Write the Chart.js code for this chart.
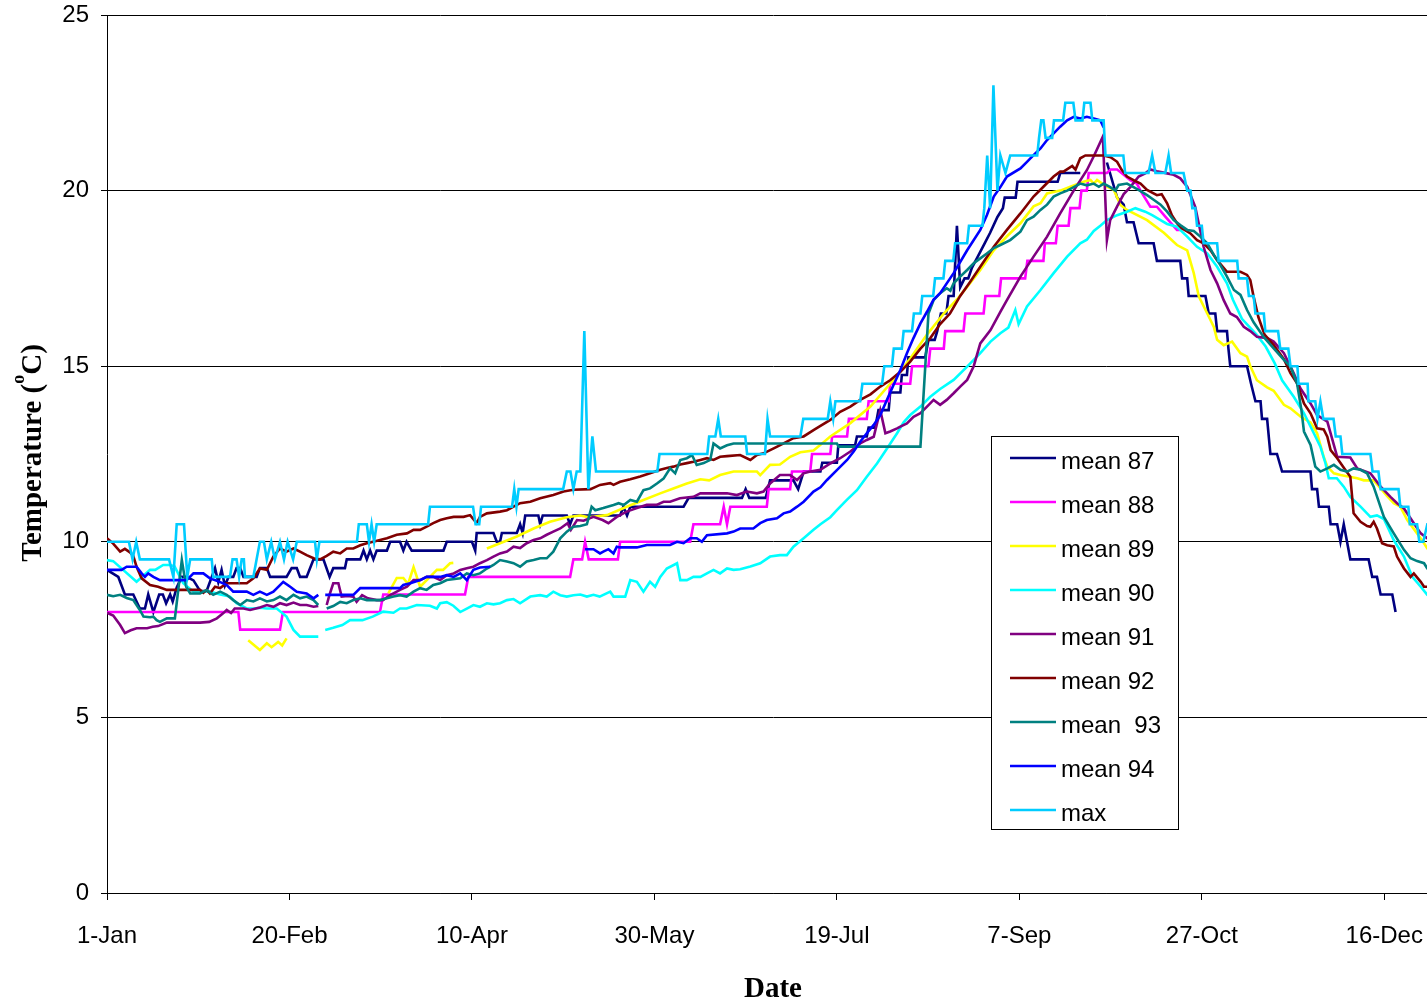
<!DOCTYPE html>
<html>
<head>
<meta charset="utf-8">
<script src="https://cdn.jsdelivr.net/npm/chart.js@4.4.1/dist/chart.umd.min.js"></script>
<style>
html, body { margin: 0; padding: 0; overflow: hidden; background: #fff; }
#wrap { position: absolute; left: 0; top: 0; width: 1427px; height: 1007px; overflow: hidden; }
canvas { display: block; }
</style>
</head>
<body>
<div id="wrap"><canvas id="c" width="1445" height="1007"></canvas></div>
<script>
// ---- axis ticks / labels ----
const xTickDays = [0, 50, 100, 150, 200, 250, 300, 350];
const xTickLabels = ['1-Jan', '20-Feb', '10-Apr', '30-May', '19-Jul', '7-Sep', '27-Oct', '16-Dec'];
const xTitle = 'Date';
const yTitleParts = ['Temperature (', 'o', 'C)'];
const seriesLabels = ['mean 87', 'mean 88', 'mean 89', 'mean 90', 'mean 91', 'mean 92', 'mean  93', 'mean 94', 'max'];
const seriesColors = ['#000080', '#FF00FF', '#FFFF00', '#00FFFF', '#800080', '#800000', '#008080', '#0000FF', '#00CCFF'];

// ---- series (day of year from 1-Jan, temperature in C; null = gap) ----
const mean87Day = [0,3.1,4.9,7.2,9,10.4,11.3,12.7,14.3,15.3,16.2,17.3,18,19.1,20.5,21.8,23.7,25.5,27.3,29.6,30.5,31.4,32.3,33.3,34.6,35.5,36.5,37.4,41,41.9,43.8,44.7,49.2,50.6,52,52.9,54.7,56.6,59.3,61,62,65.2,65.7,69.4,70.3,71.2,72.1,73,73.9,76.7,77.6,80.3,81.2,82.1,83.5,92.2,93.1,100,100.9,101.3,105.9,106.8,107.7,108.2,112.3,113.2,113.9,114.6,118.2,118.7,119.4,126,126.9,127.8,140.6,141.5,142.5,143.4,158,159.4,174,175,176,180.5,181.7,188.1,189.4,190.9,195.5,196,200,200.4,205,205.5,208.2,208.7,210.5,211.4,214.2,214.6,217.4,217.8,219.2,219.6,224.2,225.1,226.8,227.5,228.5,230,230.6,232,232.9,233.8,235,236,237,238.5,240.5,242,244,245.5,246,249,249.5,260.5,261.2,266.7,270,274,276.8,278.6,279.5,281.3,282.7,286.8,287.7,294.1,294.6,296,296.4,301,301.9,303.7,304.2,306.9,307.3,307.8,312.4,313.5,314.7,316.1,316.5,317.9,318.8,320.6,322,329.8,330.2,331.6,332.1,334.8,335.3,337.1,338,338.9,340.7,345.7,346.7,348,349,352.2,353.1];
const mean87Temp = [9.2,9.0,8.5,8.5,8.1,8.1,8.5,8.0,8.5,8.5,8.25,8.5,8.3,8.7,9.0,9.0,8.9,8.6,8.6,9.25,8.85,9.2,8.75,9.0,9.0,9.25,9.25,9.0,9.0,9.25,9.25,9.0,9.0,9.25,9.25,9.0,9.0,9.5,9.5,9.0,9.25,9.25,9.5,9.5,9.75,9.5,9.75,9.5,9.75,9.75,10.0,10.0,9.75,10.0,9.75,9.75,10.0,10.0,9.75,10.25,10.25,10.0,10.0,10.25,10.25,10.5,10.25,10.75,10.75,10.5,10.75,10.75,10.5,10.75,10.75,11.0,10.75,11.0,11.0,11.25,11.25,11.5,11.25,11.25,11.75,11.75,11.5,12.0,12.0,12.25,12.25,12.75,12.75,13.0,13.0,13.25,13.25,13.75,13.75,14.25,14.25,14.75,14.75,15.25,15.25,15.75,15.75,16.0,16.5,16.5,17.0,17.0,19.0,17.25,17.5,17.5,17.8,18.1,18.5,18.8,19.25,19.5,19.8,19.8,20.25,20.25,20.5,20.5,null,20.8,19.8,19.6,19.1,19.1,18.5,18.5,18.0,18.0,17.5,17.5,17.0,17.0,16.5,16.5,16.0,16.0,15.5,15.0,15.0,14.5,14.0,14.0,13.5,13.5,12.5,12.5,12.0,12.0,11.5,11.5,11.0,11.0,10.5,10.5,10.0,10.5,9.5,9.5,9.0,9.0,8.5,8.5,8.0];

const mean88Day = [0,36,36.5,47.4,48.2,74.8,75.7,98.1,99,126.9,127.8,130.2,131,132,140,140.6,159.8,160.7,168,169,169.9,170.8,180.8,181.3,187.2,187.7,192.7,193.2,198.2,198.7,202.8,203.3,208.2,208.7,214.2,214.6,220.1,220.6,225.1,225.6,229.3,229.7,234.7,235.2,240.2,240.7,244.5,245,251.6,252.2,256.6,257,260,260.5,263.5,264,266.5,267,268.5,269,274,275,276.8,278.6,280.4,282.2,283.2,285.9,287.7,290,293.2,294];
const mean88Temp = [8,8,7.5,7.5,8,8,8.5,8.5,9,9,9.5,9.5,10,9.5,9.5,10,10,10.5,10.5,11,10.5,11,11,11.5,11.5,12,12,12.5,12.5,13,13,13.5,13.5,14,14,14.5,14.5,15,15,15.5,15.5,16,16,16.5,16.5,17,17,17.5,17.5,18,18,18.5,18.5,19,19,19.5,19.5,20,20,20.5,20.5,20.6,20.6,20.45,20.3,20.2,20.0,19.54,19.54,19.26,18.88,18.88];

const mean89Day = [38.7,41.9,43.8,45.1,46.9,48,49.2,60,77.1,79.4,81.2,82.5,84,85.8,88.5,90.4,92.1,94,94.9,100,104.1,107.7,112.3,116.9,121.4,126,129.7,132,137,142.4,147,151.6,155.2,158.9,162.6,165,168,171.7,178.1,179,181.7,184.4,187.2,190,193.6,195.5,198.2,203.7,209.2,214.6,217.4,220.1,224.7,229.3,232.9,235.7,239.3,243,246.6,250.3,253.9,255.8,257.6,261.2,264,267.6,269.5,270.4,271.3,274,275.9,277.7,279.5,285,289.6,293.2,296,297.8,299.2,301.5,303.3,304.2,306,308.3,310.6,312.4,313.3,315.1,317.9,319.7,322.5,324.3,327.1,329.8,331.6,333.4,334.4,336.2,338,342.6,344.4,347.1,349,350.8,352.6,354.4,356.3,359,360.9,361.8,364];
const mean89Temp = [7.2,6.92,7.11,7.0,7.15,7.05,7.25,null,8.53,8.97,8.97,8.8,9.28,8.72,9.0,9.2,9.2,9.39,9.4,null,9.81,9.96,10.15,10.38,10.57,10.7,10.75,10.7,10.76,11.0,11.19,11.38,11.52,11.66,11.78,11.75,11.9,12.0,12.0,11.9,12.19,12.2,12.42,12.55,12.6,12.76,13.0,13.38,13.85,14.5,14.85,15.22,15.9,16.5,16.9,17.26,17.74,18.3,18.7,19.07,19.55,19.64,19.92,20.0,20.11,20.25,20.3,20.2,20.3,20.11,20.02,19.59,19.45,19.16,18.8,18.45,18.3,17.65,16.98,16.5,16.12,15.75,15.6,15.7,15.37,15.27,15.0,14.6,14.4,14.3,13.9,13.8,13.56,13.4,13.09,12.42,12.14,11.95,11.9,11.81,11.75,11.75,11.52,11.3,11.1,11.0,10.62,10.24,9.96,9.81,9.7];

const mean90Day = [0,1.7,8.1,11.8,13.2,15.4,17.3,18.5,20.9,23.7,28.2,31,33.7,35.5,38.3,40.1,41.9,43.8,46.5,49.2,51.1,52.9,57.9,59,59.8,62,64.5,66.6,70,72.8,75.7,78.5,80.3,82.1,84.9,88.5,90.4,91.3,93.1,94.9,96.8,98.6,100.4,102.2,104.1,105.9,107.7,109.6,111.4,113.2,116,118.7,120.5,122.3,124.2,126,127.8,129.7,131.5,133.3,135,137.9,138.8,142,143.4,145.2,147,148.8,150.2,151.6,153.4,156.2,157.1,158.9,160.7,162.6,164.4,166.2,168,169.9,171.7,173.5,176.3,179,181.7,184.4,186.3,188.1,190.9,193.6,195.5,198.2,200,202.8,205.5,208.2,211,213.7,216.5,218.3,220.1,222.9,225.6,228.3,232,235.7,239.3,242.1,244.8,247,248.9,249.8,252.1,255.8,259.4,263.1,266.7,268.5,270.4,272.2,274,276.8,279.5,281.8,284.5,286.4,288.7,290.5,293.2,296,298.7,301.5,304.2,306.9,308.5,311,315,317.5,320,322,325.2,328,330.7,332.5,333.9,334.8,337,338.9,340.7,343.5,346.2,348,349.9,352.6,355.4,357.7,360,361.8,364];
const mean90Temp = [9.48,9.45,8.86,9.2,9.2,9.34,9.34,9.3,8.82,8.58,8.58,8.5,8.44,8.25,8.1,8.1,8.12,8.1,8.1,7.87,7.49,7.3,7.3,null,7.49,7.55,7.63,7.77,7.77,7.87,8.01,7.98,8.1,8.1,8.2,8.18,8.1,8.25,8.28,8.18,8.0,8.1,8.2,8.15,8.25,8.22,8.25,8.34,8.37,8.25,8.44,8.48,8.44,8.58,8.48,8.44,8.48,8.5,8.44,8.49,8.44,8.58,8.44,8.44,8.91,8.86,8.58,8.86,8.72,9.0,9.24,9.39,8.91,8.91,9.0,9.0,9.1,9.2,9.1,9.24,9.2,9.22,9.3,9.39,9.58,9.62,9.62,9.86,10.1,10.34,10.5,10.7,10.9,11.2,11.47,11.85,12.23,12.65,13.09,13.4,13.61,13.85,14.13,14.35,14.61,14.99,15.37,15.7,15.94,16.1,16.6,16.2,16.7,17.17,17.65,18.12,18.5,18.6,18.85,19.0,19.16,19.3,19.4,19.5,19.4,19.3,19.16,19.05,18.97,18.69,18.4,18.21,17.83,17.36,16.9,16.35,15.9,15.56,15.08,14.6,14.13,13.66,13.09,12.71,12.23,11.81,11.81,11.57,11.28,11.0,10.71,10.75,10.65,10.05,9.58,9.0,8.72,8.49,8.4];

const mean91Day = [0,1.7,3.6,4.9,6.5,8.1,11,12.5,14,16.4,25.5,28,30.1,31.9,32.8,34,35,37.4,39.2,41.9,43.8,45.6,47.4,49.2,51.1,52.9,54.7,56.6,57.9,59,60.2,61,62,63.4,64.3,66,67.5,68.4,69.9,71.5,73.9,75.6,77.6,80.3,82.2,84,85.8,87.6,89.4,91.3,93.1,95,96.8,98.6,100.4,102.2,104.1,105.9,107.7,109.6,111.4,113.2,115,116.9,118.7,120.5,122.3,124.2,126.2,127.1,128.8,130.6,133.3,135.8,137.4,139.7,142.4,145.2,147.9,150.6,152.5,154.3,157,160.7,162.6,165.3,169.9,172.6,175.3,178.1,179.9,181.7,184.4,187.2,189.1,190.9,192.7,195.5,198.2,200.9,203.7,206.4,208.2,210.1,211.9,213.3,214.6,216.5,217.4,219.2,221,222.9,224.7,226.5,228.3,230.1,232,233.8,235.7,237.5,239.3,242.1,244.8,246.6,250.3,253.9,257.6,261.2,264.9,268.5,270.5,272.9,274,274.9,276.8,278.6,280.4,282.7,284.5,285.9,287.7,290.5,292.3,294.1,296,298.2,300.5,302.4,304.2,306,307.8,309.6,311.5,313.3,315.1,317.9,319.7,322.5,325.2,327,329.8,331.6,334.4,337.1,340.7,342.6,346.2,349,351.7,353.5,355.4,358.1,360,361.8,364];
const mean91Temp = [7.98,7.9,7.63,7.4,7.48,7.54,7.54,7.58,7.6,7.7,7.7,7.72,7.82,7.97,8.06,7.97,8.1,8.1,8.06,8.13,8.2,8.15,8.25,8.2,8.27,8.2,8.2,8.15,8.17,null,8.2,8.5,8.82,8.82,8.44,8.46,8.44,8.29,8.48,8.39,8.34,8.34,8.48,8.63,8.72,8.91,8.91,9.0,9.0,8.91,9.05,9.1,9.2,9.25,9.29,9.39,9.48,9.58,9.67,9.72,9.86,9.82,9.96,10.05,10.1,10.2,10.29,10.38,10.53,10.34,10.62,10.6,10.71,10.62,10.53,10.71,10.86,10.96,11.05,11.05,11.14,11.14,11.24,11.28,11.38,11.38,11.38,11.33,11.43,11.38,11.43,11.66,11.9,11.9,11.76,11.95,12.0,12.05,12.23,12.38,12.57,12.8,12.9,12.99,13.75,13.09,13.14,13.23,13.28,13.37,13.56,13.66,13.85,14.04,13.9,14.04,14.23,14.42,14.61,15.0,15.65,16.03,16.55,16.88,17.55,18.12,18.69,19.35,20.0,20.58,21.0,21.54,18.59,19.16,19.55,19.9,20.1,20.4,20.49,20.6,20.55,20.49,20.45,20.35,20.11,19.54,18.4,17.74,17.36,16.88,16.5,16.4,16.12,16.0,15.84,15.8,15.7,15.37,14.8,14.37,13.94,13.61,13.42,12.42,12.4,12.09,11.95,11.57,11.28,11.1,10.95,10.53,10.24,10.1,10.0];

const mean92Day = [0,1.7,3.6,4.9,6.3,7.2,8.1,9.5,11.8,14,16.4,25.5,26.4,27.3,28.2,29.6,31,32.8,38.3,40.1,41.9,43.8,45.6,47.4,49.2,51.1,52.9,54.7,56.6,58.4,60.2,62,63.9,65.7,67.5,69.4,71.2,74,76.7,79.4,82.2,84,85.8,87.6,89.4,91.3,93.1,95,97.7,99.5,101.3,102.2,104.1,107.7,109.6,111.4,113.2,116,118.7,122.3,125.1,127.8,132.5,135.1,137.9,138.8,140.6,143.4,146.1,148.8,151.6,153.4,155.2,157.1,158.9,160.7,162.6,164.4,166.2,168,169.9,173.5,176.3,178.1,179.9,182.7,185.4,188.1,190.9,193.6,195.5,198.2,200.9,203.7,206.4,209.2,211.9,214.6,217.4,220.1,222.9,225.6,228.3,231,233.8,236.5,239.3,243,246.6,250.3,253.9,256.6,259.4,261.2,262.1,264.5,265.4,266.7,268.1,273.1,275,276.8,278,279.5,281.3,283.2,285,287.7,289,290.5,291.8,293.2,294.5,296.9,298.7,300.5,302.4,304.2,306.9,310.6,312.4,313.3,314.2,315.5,317.2,319.7,322.5,324.3,326.1,328,329.8,331.6,333.4,334.4,335.3,337.1,339.4,340.7,341.6,343.5,345.3,346.2,347.1,348,349.4,350.8,352.6,353.5,355.4,357.2,358.1,360,360.9,361.8,364];
const mean92Temp = [10.1,9.95,9.72,9.8,9.7,9.6,9.29,8.96,8.77,8.72,8.63,8.63,8.55,8.63,8.53,8.72,8.68,8.82,8.82,8.96,9.24,9.2,9.58,9.81,9.72,9.81,9.72,9.62,9.53,9.5,9.6,9.72,9.67,9.81,9.81,9.9,9.96,10.03,10.1,10.2,10.24,10.34,10.34,10.43,10.53,10.62,10.67,10.71,10.71,10.76,10.53,10.71,10.81,10.86,10.9,11.0,11.1,11.14,11.24,11.33,11.43,11.48,11.5,11.62,11.67,11.62,11.71,11.78,11.86,11.95,12.05,12.1,12.14,12.2,12.24,12.28,12.33,12.38,12.33,12.42,12.44,12.47,12.33,12.47,12.52,12.66,12.8,12.95,13.0,13.18,13.3,13.47,13.7,13.85,14.04,14.2,14.42,14.6,14.84,15.13,15.5,15.8,16.2,16.5,17.0,17.4,17.83,18.4,18.88,19.35,19.83,20.11,20.4,20.54,20.54,20.7,20.6,20.92,21.0,21.0,20.95,20.82,20.6,20.4,20.3,20.2,20.02,19.87,19.9,19.64,19.3,19.07,18.93,18.78,18.59,18.5,18.3,18.02,17.69,17.69,17.6,17.45,16.98,16.4,15.9,15.6,15.2,14.8,14.51,13.94,13.66,13.23,13.2,12.99,12.61,12.38,12.04,11.85,10.81,10.57,10.45,10.43,10.57,10.38,9.96,9.9,9.87,9.58,9.24,9.0,9.1,8.86,8.72,8.72,8.6];

const mean93Day = [0,1.7,3.6,5.4,7.2,9,10,11.8,12.7,13.6,14.5,16.4,18.6,20.5,21.7,22.8,25.5,27.3,29.1,31,32.8,34.6,36.5,38.3,40.1,41.9,43.8,45.6,47.4,49.2,51.1,52.9,54.7,56.6,57.9,59,60.2,62,63.9,65.7,67.5,69.4,71.2,74.8,76.7,78.5,80.3,82.1,84,85.8,87.6,89.4,91.3,93.1,96.8,98.6,100.4,102.2,104.1,105.9,107.7,109.6,111.4,113.2,115,116.9,118.7,120.5,122.3,124.2,126,127.8,129.7,131.5,132.8,133.8,136,138.8,140.2,141.6,143.4,145.2,147,148.8,150.7,152.5,154.3,155.7,157.1,158.9,160.3,161.6,163.5,165.3,166.2,168,169.9,171.7,200,200.5,222.9,225.1,226.5,228.3,230.1,231.1,232,233.8,235.7,237.5,239.3,241.1,243,244.8,247.5,250.3,252.1,253.9,255.8,257.6,259.4,261.2,263.1,264.9,266.7,268.5,270.4,271.8,273.1,274.9,276.3,277.2,279.5,281.3,283,285,286.8,288.7,290.5,292.3,294.1,296,297.8,299.6,301.5,303.3,305.1,306.9,308.8,310.6,312.4,314.2,316.9,319.7,322.5,324.3,326.1,327.3,328,329.8,331.1,332.5,334.4,336.2,338,339.8,341.6,343.5,345.3,347.1,349.9,352.6,355.4,357.2,359,360.9,361.8,364];
const mean93Temp = [8.49,8.45,8.49,8.4,8.34,8.06,7.87,7.85,7.87,7.77,7.72,7.82,7.82,9.48,8.72,8.53,8.53,8.63,8.49,8.58,8.49,8.34,8.2,8.34,8.3,8.39,8.3,8.34,8.44,8.34,8.49,8.39,8.44,8.34,8.2,null,8.1,8.17,8.29,8.25,8.34,8.39,8.34,8.34,8.39,8.44,8.48,8.44,8.58,8.68,8.63,8.77,8.82,8.91,8.96,9.1,9.05,9.1,9.24,9.34,9.48,9.44,9.39,9.29,9.44,9.48,9.53,9.53,9.72,10.1,10.29,10.43,10.45,10.5,11.0,10.9,10.96,11.05,11.1,11.05,11.19,11.14,11.47,11.52,11.66,11.8,12.09,11.95,12.33,12.38,12.47,12.19,12.24,12.33,12.8,12.66,12.75,12.8,12.8,12.71,12.71,16.5,16.88,17.08,17.22,17.15,17.36,17.55,17.74,17.93,18.07,18.21,18.36,18.45,18.59,18.83,19.16,19.26,19.45,19.6,19.83,19.92,20.0,20.1,20.2,20.15,20.2,20.11,20.2,20.1,20.0,20.16,20.2,20.1,20.0,19.87,19.74,19.6,19.4,19.16,19.02,18.88,18.85,18.69,18.5,18.17,17.88,17.55,17.17,17.03,16.6,16.25,15.84,15.51,15.18,14.99,14.51,13.75,13.14,12.76,12.14,12.0,12.09,12.19,12.05,12.0,12.09,12.05,11.95,11.57,10.71,10.24,9.77,9.53,9.45,9.39,9.24,9.1];

const mean94Day = [0,4,5.4,8.1,9.5,10.4,11.3,12.7,14.5,21.8,23.7,26.4,28.2,30.9,32.8,34.6,38.3,40.1,41.9,43.8,45.6,48.3,50.2,52,54.7,56.6,57.9,59,59.8,67.5,69.4,80.3,81.2,83.1,85.8,87.6,91.3,93.1,95,96.8,98.6,100.4,102.2,105,118,131,133.3,135.1,136,137.4,138.8,139.7,140.6,145.2,147.9,154.3,156.2,158,159.8,161.6,163,164.4,169.9,171.7,173.5,177.1,179,180.8,183.6,185.4,187.2,189.1,190.9,193.6,195.5,197.3,200,202.8,204.6,206.4,208.2,210.1,211.9,213.7,215.5,217.4,219.2,221,222.9,224.7,226.5,228.3,232,235.7,239.3,241.1,243,244.8,246.6,250.3,252.1,253.9,255.8,257.6,259.4,261.2,263.1,264.9,266.7,268.5,270.4,272.2,273.1];
const mean94Temp = [9.2,9.2,9.29,9.29,9.1,9.0,9.1,9.0,8.91,8.91,9.1,9.1,8.96,8.86,8.77,8.58,8.58,8.49,8.58,8.49,8.58,8.86,8.72,8.58,8.53,8.39,8.49,null,8.49,8.49,8.68,8.68,8.77,8.82,8.91,9.0,9.0,9.05,9.0,9.1,8.91,9.2,9.27,9.29,null,9.79,9.79,9.67,9.72,9.79,9.67,9.86,9.84,9.84,9.91,9.91,10.0,9.96,10.1,10.1,10.0,10.19,10.24,10.29,10.38,10.38,10.53,10.62,10.67,10.81,10.86,11.0,11.14,11.43,11.55,11.76,12.04,12.33,12.57,12.85,13.09,13.33,13.61,14.04,14.46,14.89,15.37,15.8,16.22,16.55,16.9,17.08,17.65,18.3,18.88,19.3,19.83,20.1,20.4,20.63,20.82,21.01,21.2,21.44,21.63,21.82,22.0,22.1,22.05,22.1,22.05,22.0,21.8];

const maxDay = [0,6,7,8,9,17,18.2,19.1,21.1,22,22.8,28.7,29.1,33.7,34.4,35.5,36.2,36.9,37.5,37.8,40.1,41,41.9,43,43.8,45,46,47.4,48.5,49.5,51,52,57,57.5,58.2,68.5,69,71.2,71.8,72.5,73.2,73.9,88,88.5,100.3,101,102,102.5,111,111.6,112.2,112.8,125,126,127,127.8,128.7,129.7,130.8,131.9,133,134,150.8,151.4,164.5,165,166.7,167.5,168.2,174.9,175.4,180.3,181,181.7,190,190.8,197.5,198.2,199,199.6,206.4,207,212.4,213,215.1,215.6,217.8,218.3,220.6,221.1,222.9,223.4,226.4,226.9,229.2,229.7,231.9,232.4,235.7,236.2,239.9,240.4,241.2,242,242.9,244,244.8,246.2,247.5,254.9,255.4,256,256.6,257.2,259,259.5,262,262.6,264.8,265.4,267.3,267.8,269.5,270,273.1,273.6,278.5,279,285.4,286.4,287.3,290,290.9,291.6,295,296,296.9,297.4,298.2,298.7,300,300.5,304.2,304.6,309.7,310.1,312.4,312.9,314.2,314.7,317,317.4,320.9,321.5,323.7,324.3,326.2,326.5,329,329.2,331.1,331.7,332.5,333.3,336.1,336.7,338,338.5,346.2,346.8,348.4,349,353.9,354.4,356.6,357,359,359.6,360.7,361.8,364];
const maxTemp = [10,10,9.5,10,9.5,9.5,9,10.5,10.5,9,9.5,9.5,9,9,9.5,9.5,9,9.5,9.5,9,9,9.5,10,10,9.5,10,9.5,10,9.5,10,9.5,10,10,9.5,10,10,10.5,10.5,10,10.5,10,10.5,10.5,11,11,10.5,10.5,11,11,11.5,11,11.5,11.5,12,12,11.5,12,12,16,11.5,13,12,12,12.5,12.5,13,13,13.5,13,13,12.5,12.5,13.5,13,13,13.5,13.5,14,13.5,14,14,14.5,14.5,15,15,15.5,15.5,16,16,16.5,16.5,17,17,17.5,17.5,18,18,18.5,18.5,19,19,19.5,21,19.5,23,20,21,20.5,21,21,21.5,22,22,21.5,21.5,22,22,22.5,22.5,22,22,22.5,22.5,22,22,21,21,20.5,20.5,21,20.5,20.5,21,20.5,20.5,20,20,19.5,19.5,19,19,18.5,18.5,18,18,17.5,17.5,17,17,16.5,16.5,16,16,15.5,15.5,15,15,14.5,14.5,14,14,13.5,14,13.5,13.5,13,13,12.5,12.5,12,12,11.5,11.5,11,11,10.5,10.5,10,10,10.5,10.5];

const seriesDays = [mean87Day, mean88Day, mean89Day, mean90Day, mean91Day, mean92Day, mean93Day, mean94Day, maxDay];
const seriesTemps = [mean87Temp, mean88Temp, mean89Temp, mean90Temp, mean91Temp, mean92Temp, mean93Temp, mean94Temp, maxTemp];

const FONT = 'Liberation Sans';
const SERIF = 'Liberation Serif';

const datasets = seriesLabels.map((label, i) => ({
  label,
  data: seriesDays[i].map((d, j) => ({ x: d, y: seriesTemps[i][j] })),
  borderColor: seriesColors[i],
  backgroundColor: seriesColors[i],
  borderWidth: 2.6,
  pointRadius: 0,
  tension: 0,
  spanGaps: false,
  order: seriesLabels.length - i
}));

const boxLegend = {
  id: 'boxLegend',
  afterDraw(chart) {
    const ctx = chart.ctx;
    ctx.save();
    ctx.fillStyle = '#fff';
    ctx.fillRect(991.5, 436.5, 187, 393);
    ctx.strokeStyle = '#000';
    ctx.lineWidth = 1;
    ctx.strokeRect(991.5, 436.5, 187, 393);
    ctx.font = '24px "' + FONT + '"';
    ctx.textBaseline = 'middle';
    ctx.textAlign = 'left';
    chart.data.datasets.forEach((ds, i) => {
      const y = 458 + i * 44;
      ctx.strokeStyle = ds.borderColor;
      ctx.lineWidth = 2.6;
      ctx.beginPath();
      ctx.moveTo(1010, y);
      ctx.lineTo(1056, y);
      ctx.stroke();
      ctx.fillStyle = '#000';
      ctx.fillText(ds.label, 1061, y + 4);
    });
    ctx.restore();
  }
};

const yTitle = {
  id: 'yTitle',
  afterDraw(chart) {
    const ctx = chart.ctx;
    ctx.save();
    ctx.translate(31, 453);
    ctx.rotate(-Math.PI / 2);
    ctx.fillStyle = '#000';
    ctx.textBaseline = 'alphabetic';
    ctx.textAlign = 'left';
    const big = 'bold 29px "' + SERIF + '"';
    const small = 'bold 18px "' + SERIF + '"';
    ctx.font = big;
    const w1 = ctx.measureText(yTitleParts[0]).width;
    const w3 = ctx.measureText(yTitleParts[2]).width;
    ctx.font = small;
    const w2 = ctx.measureText(yTitleParts[1]).width;
    let x = -(w1 + w2 + w3) / 2;
    const base = 10;
    ctx.font = big; ctx.fillText(yTitleParts[0], x, base); x += w1;
    ctx.font = small; ctx.fillText(yTitleParts[1], x, base - 17); x += w2;
    ctx.font = big; ctx.fillText(yTitleParts[2], x, base);
    ctx.restore();
  }
};

new Chart(document.getElementById('c'), {
  type: 'line',
  data: { datasets },
  plugins: [boxLegend, yTitle],
  options: {
    responsive: false,
    animation: false,
    devicePixelRatio: 1,
    layout: { padding: { top: 15, right: 6, left: 0, bottom: 0 } },
    plugins: { legend: { display: false }, tooltip: { enabled: false } },
    scales: {
      x: {
        type: 'linear',
        min: 0,
        max: 365,
        afterBuildTicks(scale) { scale.ticks = xTickDays.map(v => ({ value: v })); },
        afterFit(scale) { scale.height = 114; scale.paddingLeft = 0; scale.paddingRight = 0; },
        grid: { drawOnChartArea: false, drawTicks: true, tickLength: 7, tickColor: '#000', color: '#000' },
        border: { display: true, color: '#000', width: 1 },
        ticks: {
          autoSkip: false, maxRotation: 0, padding: 22, color: '#000',
          font: { family: FONT, size: 24 },
          callback: (v, i) => xTickLabels[i]
        },
        title: {
          display: true, text: xTitle, color: '#000',
          font: { family: SERIF, size: 29, weight: 'bold' },
          padding: { top: 0, bottom: 0 }
        }
      },
      y: {
        min: 0,
        max: 25,
        afterFit(scale) { scale.width = 107; scale.paddingTop = 0; scale.paddingBottom = 0; },
        grid: { color: '#000', lineWidth: 1, drawTicks: true, tickLength: 6, tickColor: '#000' },
        border: { display: true, color: '#000', width: 1 },
        ticks: { stepSize: 5, padding: 12, color: '#000', font: { family: FONT, size: 24 } }
      }
    }
  }
});
</script>
</body>
</html>
